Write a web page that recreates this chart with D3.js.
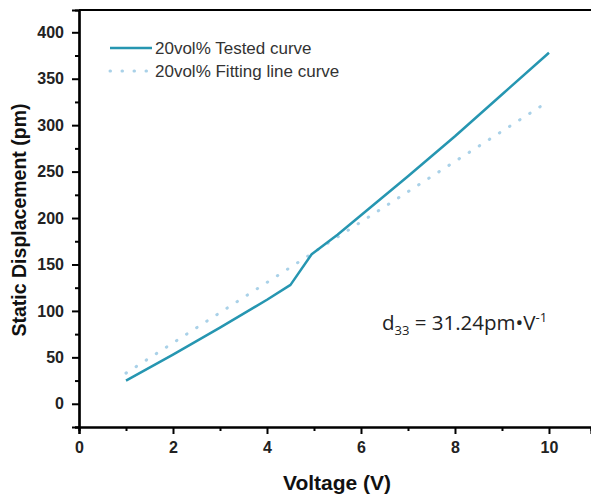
<!DOCTYPE html>
<html>
<head>
<meta charset="utf-8">
<script src="https://cdn.jsdelivr.net/npm/d3@7/dist/d3.min.js"></script>
<style>
  body { margin: 0; background: #fff; }
  text { font-family: Arial, "Liberation Sans", sans-serif; }
</style>
</head>
<body>
<div id="chart"></div>
<script>
// data
var testedV = [1, 2, 3, 4, 4.5, 4.95, 5.5, 6, 7, 8, 9, 10]
var testedD = [25, 53, 82, 112, 128, 161, 182, 203, 245, 288, 333, 378]
var fitV = [1, 10]
var fitD = [33, 326]
var xTicks = [0, 2, 4, 6, 8, 10]
var yTicks = [0, 50, 100, 150, 200, 250, 300, 350, 400]
var legendLabels = ["20vol% Tested curve", "20vol% Fitting line curve"]

var svgSize = { width: 591, height: 500 }

var svg = d3.select("#chart")
    .append("svg")
    .attr("width", svgSize.width)
    .attr("height", svgSize.height)

var margin = { top: 10, bottom: 73, left: 79, right: 0 }

var xScale = d3.scaleLinear()
    .domain([0, 10.894])
    .range([margin.left, svgSize.width])

var yScale = d3.scaleLinear()
    .domain([-25, 424])
    .range([svgSize.height - margin.bottom, margin.top])

var teal = "#2696b1"
var light = "#a9d1e8"

// top frame line
svg.append("line")
    .attr("x1", margin.left).attr("x2", svgSize.width)
    .attr("y1", yScale(424)).attr("y2", yScale(424))
    .attr("stroke", "#000").attr("stroke-width", 2)

// minor ticks
var xAxisY = yScale(-25)
svg.append("g")
    .attr("transform", `translate(0, ${xAxisY})`)
    .call(d3.axisBottom(xScale).tickValues([1, 3, 5, 7, 9]).tickSize(4).tickFormat(""))
svg.append("g")
    .attr("transform", `translate(${margin.left}, 0)`)
    .call(d3.axisLeft(yScale).tickValues([-25, 25, 75, 125, 175, 225, 275, 325, 375]).tickSize(4).tickFormat(""))

var bottomAxis = d3.axisBottom(xScale).tickValues(xTicks).tickSize(7).tickPadding(8)
var leftAxis = d3.axisLeft(yScale).tickValues(yTicks).tickSize(7).tickPadding(8)

var xAxis = svg.append("g").attr("transform", `translate(0, ${xAxisY})`).call(bottomAxis)
var yAxis = svg.append("g").attr("transform", `translate(${margin.left}, 0)`).call(leftAxis)

svg.selectAll(".domain, .tick line").attr("stroke", "#000").attr("stroke-width", 2)
svg.selectAll(".domain").attr("stroke-width", 2.2)
svg.selectAll(".tick text")
    .attr("font-size", 16)
    .attr("font-weight", "bold")
    .attr("fill", "#222")

// curves
var line = d3.line()
    .x(d => xScale(d[0]))
    .y(d => yScale(d[1]))

svg.append("path")
    .datum(fitV.map((v, i) => [v, fitD[i]]))
    .attr("d", line)
    .attr("fill", "none")
    .attr("stroke", light)
    .attr("stroke-width", 3)
    .attr("stroke-linecap", "round")
    .attr("stroke-dasharray", "0.5,11.5")

svg.append("path")
    .datum(testedV.map((v, i) => [v, testedD[i]]))
    .attr("d", line)
    .attr("fill", "none")
    .attr("stroke", teal)
    .attr("stroke-width", 2.5)
    .attr("stroke-linejoin", "round")

// legend
var legend = svg.append("g")
legend.append("line")
    .attr("x1", 110).attr("x2", 152).attr("y1", 48).attr("y2", 48)
    .attr("stroke", teal).attr("stroke-width", 2.5)
legend.append("line")
    .attr("x1", 110).attr("x2", 152).attr("y1", 71).attr("y2", 71)
    .attr("stroke", light).attr("stroke-width", 3)
    .attr("stroke-linecap", "round").attr("stroke-dasharray", "0.5,11.5")
legend.selectAll("text.leg")
    .data(legendLabels)
    .enter()
    .append("text")
    .attr("class", "leg")
    .attr("x", 155)
    .attr("y", (d, i) => 54 + i * 23)
    .attr("font-size", 17)
    .attr("fill", "#333")
    .text(d => d)

// annotation
var note = svg.append("text")
    .attr("x", 382)
    .attr("y", 330)
    .attr("font-size", 20.5)
    .attr("fill", "#222")
    .style("font-family", "'Open Sans', 'Liberation Sans', sans-serif")
note.append("tspan").text("d")
note.append("tspan").attr("dy", 5).attr("font-size", 13).text("33")
note.append("tspan").attr("dy", -5).text(" = 31.24pm\u2022V")
note.append("tspan").attr("dy", -8).attr("font-size", 13).text("-1")

// axis titles
svg.append("text")
    .attr("x", 337)
    .attr("y", 490)
    .attr("text-anchor", "middle")
    .attr("font-size", 21)
    .attr("font-weight", "bold")
    .attr("fill", "#111")
    .text("Voltage (V)")

svg.append("text")
    .attr("transform", `translate(26, 220) rotate(-90)`)
    .attr("text-anchor", "middle")
    .attr("font-size", 19.5)
    .attr("font-weight", "bold")
    .attr("fill", "#111")
    .text("Static Displacement (pm)")
</script>
</body>
</html>
